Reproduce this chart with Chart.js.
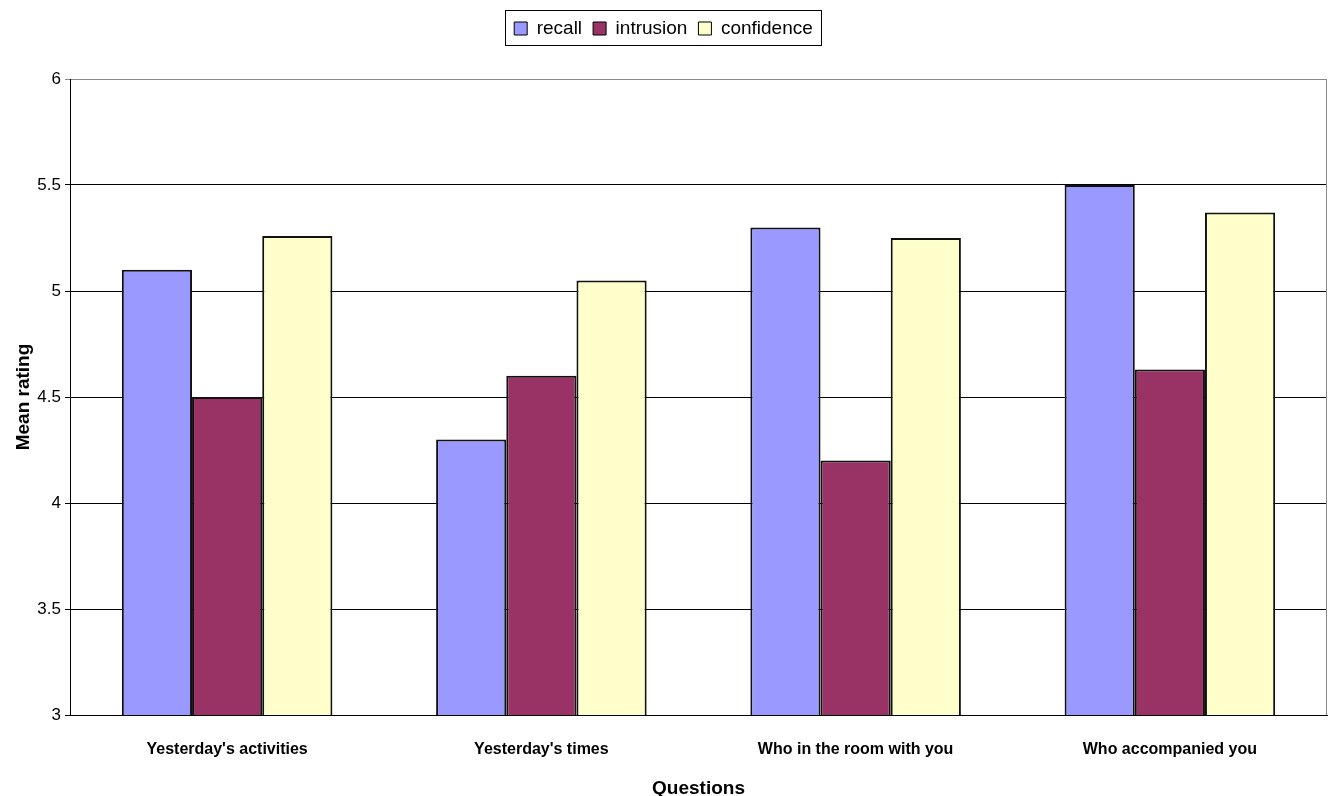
<!DOCTYPE html>
<html>
<head>
<meta charset="utf-8">
<script src="https://cdn.jsdelivr.net/npm/chart.js@4.4.0/dist/chart.umd.min.js"></script>
<style>
  html, body { margin: 0; padding: 0; background: #fff; }
  #wrap { width: 1328px; height: 796px; position: relative; }
</style>
</head>
<body>
<div id="wrap"><canvas id="myChart"></canvas></div>
<script>
const questions = ["Yesterday's activities", "Yesterday's times", "Who in the room with you", "Who accompanied you"];
const recall = [5.1, 4.3, 5.3, 5.5];
const intrusion = [4.5, 4.6, 4.2, 4.63];
const confidence = [5.26, 5.05, 5.25, 5.37];
const yTicks = [3, 3.5, 4, 4.5, 5, 5.5, 6];

Chart.defaults.font.family = "'Liberation Sans', Arial, sans-serif";
Chart.defaults.color = '#000';

// leave more room under the legend than Chart.js gives by default
const legendGap = {
  id: 'legendGap',
  afterInit(chart) {
    const legend = chart.legend;
    const fit = legend.fit;
    legend.fit = function () {
      fit.call(this);
      this.height += 31;
    };
  }
};

// box round the legend and grey border round the plot, like the Excel chart
const frames = {
  id: 'frames',
  afterDraw(chart) {
    const ctx = chart.ctx;
    const area = chart.chartArea;
    ctx.save();
    ctx.strokeStyle = '#888';
    ctx.lineWidth = 1;
    ctx.beginPath();
    ctx.moveTo(area.right - 0.5, area.top);
    ctx.lineTo(area.right - 0.5, area.bottom);
    ctx.stroke();

    const boxes = chart.legend.legendHitBoxes;
    if (boxes && boxes.length) {
      const left = Math.min(...boxes.map(b => b.left)) - 9;
      const right = Math.max(...boxes.map(b => b.left + b.width)) + 8;
      const top = boxes[0].top - 9;
      const bottom = boxes[0].top + boxes[0].height + 7;
      ctx.strokeStyle = '#000';
      ctx.strokeRect(Math.round(left) + 0.5, Math.round(top) + 0.5, Math.round(right - left), Math.round(bottom - top));
    }
    ctx.restore();
  }
};

const ctx = document.getElementById('myChart').getContext('2d');
const myChart = new Chart(ctx, {
  type: 'bar',
  data: {
    labels: questions,
    datasets: [
      { label: 'recall', data: recall, backgroundColor: '#9999FF', borderColor: '#111', borderWidth: 2 },
      { label: 'intrusion', data: intrusion, backgroundColor: '#993366', borderColor: '#111', borderWidth: 2 },
      { label: 'confidence', data: confidence, backgroundColor: '#FFFFCC', borderColor: '#111', borderWidth: 2 }
    ]
  },
  options: {
    responsive: true,
    maintainAspectRatio: false,
    animation: false,
    layout: { padding: { top: 8, right: 1, left: 0, bottom: 0 } },
    datasets: {
      bar: { barPercentage: 1, categoryPercentage: 0.67 }
    },
    plugins: {
      legend: {
        position: 'top',
        labels: {
          boxWidth: 13,
          boxHeight: 13,
          padding: 11,
          font: { size: 19 },
          generateLabels(chart) {
            return chart.data.datasets.map((ds, i) => ({
              text: ds.label,
              fillStyle: ds.backgroundColor,
              strokeStyle: '#000',
              lineWidth: 1,
              datasetIndex: i
            }));
          }
        }
      },
      tooltip: { enabled: false }
    },
    scales: {
      x: {
        grid: { display: false },
        border: { color: '#000', width: 1 },
        ticks: { font: { size: 16, weight: 'bold' }, padding: 17, color: '#000' },
        title: { display: true, text: 'Questions', font: { size: 19, weight: 'bold' }, padding: { top: 13, bottom: -4 } },
        afterFit(scale) { scale.height = 81; }
      },
      y: {
        min: 3,
        max: 6,
        afterBuildTicks(scale) { scale.ticks = yTicks.map(v => ({ value: v })); },
        grid: {
          color: c => c.tick && c.tick.value === 6 ? '#888' : '#000',
          lineWidth: 1,
          tickLength: 5
        },
        border: { color: '#000', width: 1 },
        ticks: {
          font: { size: 17 },
          padding: 4,
          color: '#000',
          callback: v => String(v)
        },
        title: { display: true, text: 'Mean rating', font: { size: 19, weight: 'bold' }, padding: { top: 12, bottom: 0 } },
        afterFit(scale) { scale.width = 70; }
      }
    }
  },
  plugins: [legendGap, frames]
});
</script>
</body>
</html>
